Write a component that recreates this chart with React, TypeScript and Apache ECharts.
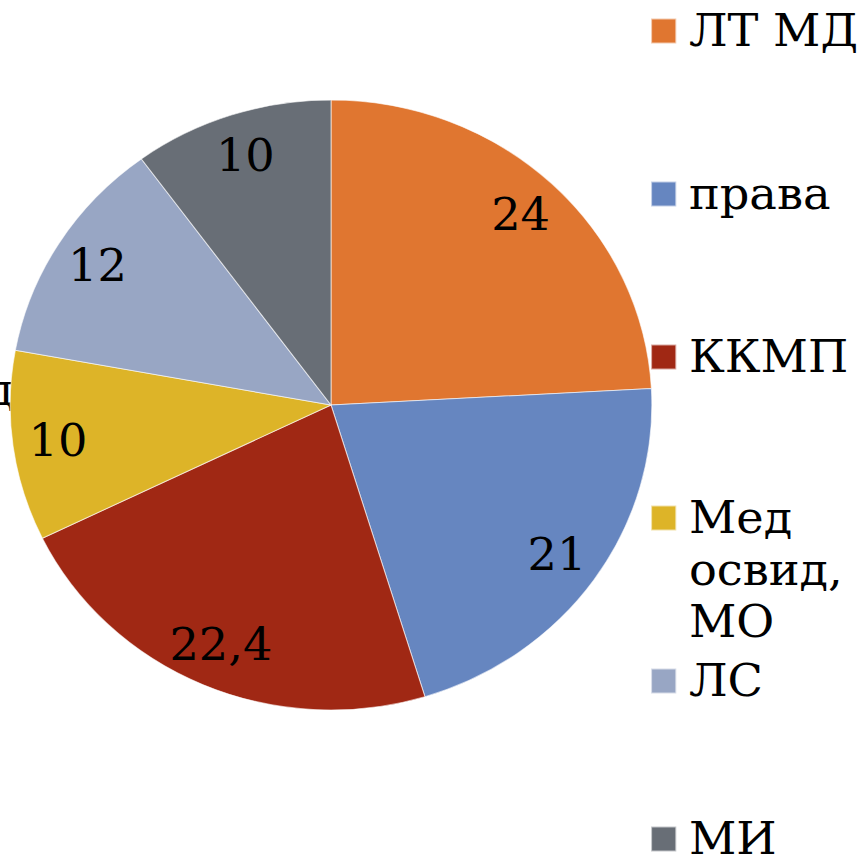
import React, { useEffect, useRef } from "react";
import * as echarts from "echarts";

const categories = ["ЛТ МД", "права", "ККМП", "Мед освид, МО", "ЛС", "МИ"];
const values = [24, 21, 22.4, 10, 12, 10];
const colors = ["#E07630", "#6686C0", "#A02814", "#DDB428", "#98A6C4", "#686E76"];
const legendCenters = [30, 193, 356, 518, 680, 838];

const FONT = "DejaVu Serif";
const SX = 1.052; // the reference picture is slightly wider than tall
const W = Math.round(866 / SX);

export default function App() {
  const ref = useRef<HTMLDivElement>(null);
  useEffect(() => {
    if (!ref.current) return;
    const chart = echarts.init(ref.current, null, { renderer: "svg" });
    const data = categories.map((name, i) => ({
      name,
      value: values[i],
      itemStyle: { color: colors[i] },
    }));
    const legends = categories.map((name, i) => {
      const multi = name === "Мед освид, МО";
      const lh = multi ? 52 : 42;
      const nLines = multi ? 5 : 1;
      const top = legendCenters[i] - 12.5 - ((lh * nLines) / 2 - 12.5);
      return {
        data: [name],
        orient: "vertical",
        left: 650 / SX,
        top,
        padding: 0,
        itemWidth: 24,
        itemHeight: 25,
        icon: "rect",
        selectedMode: false,
        formatter: multi ? () => "\n\nМед\nосвид,\nМО" : (n: string) => n,
        textStyle: {
          fontFamily: FONT,
          fontSize: 44,
          color: "#000",
          lineHeight: lh,
          padding: [0, 0, 0, 7],
        },
      };
    });
    chart.setOption({
      animation: false,
      backgroundColor: "#fff",
      legend: legends,
      graphic: [
        {
          type: "text",
          left: -14,
          top: 368,
          style: { text: "д", font: `44px "${FONT}"`, fill: "#000" },
        },
      ],
      series: [
        {
          type: "pie",
          center: [331 / SX, 405],
          radius: 305,
          startAngle: 90,
          clockwise: true,
          label: { show: false },
          labelLine: { show: false },
          itemStyle: { borderColor: "rgba(255,255,255,0.6)", borderWidth: 1 },
          emphasis: { disabled: true },
          data,
        },
        {
          type: "pie",
          center: [331 / SX, 405],
          radius: [213, 305],
          startAngle: 90,
          clockwise: true,
          silent: true,
          itemStyle: { color: "transparent", borderWidth: 0 },
          labelLine: { show: false },
          emphasis: { disabled: true },
          label: {
            show: true,
            position: "inside",
            fontFamily: FONT,
            fontSize: 44,
            color: "#000",
            formatter: (p: any) => String(p.value).replace(".", ","),
          },
          data: categories.map((name, i) => ({ name, value: values[i] })),
        },
      ],
    });
    return () => chart.dispose();
  }, []);
  return (
    <div
      ref={ref}
      style={{
        position: "fixed",
        left: 0,
        top: 0,
        width: W,
        height: 865,
        transform: `scaleX(${SX})`,
        transformOrigin: "0 0",
      }}
    />
  );
}
